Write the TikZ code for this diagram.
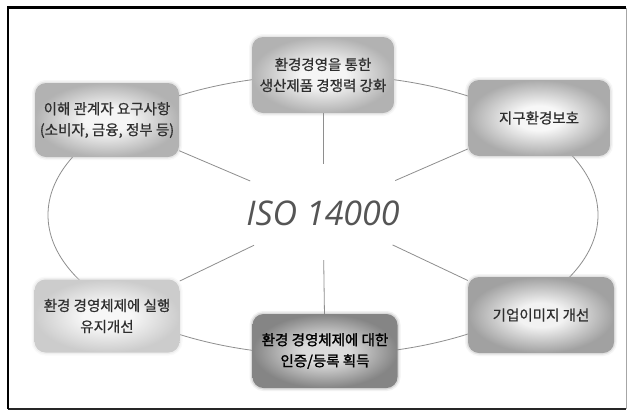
\documentclass[tikz,border=0pt]{standalone}
\usepackage{fontspec}
\newfontfamily\kr{Noto Sans CJK KR}[FakeBold=0.6]
\newfontfamily\krb{Noto Sans CJK KR}[FakeBold=1.4]
\newfontfamily\isofont{Open Sans}
\usetikzlibrary{shapes.geometric}
\definecolor{txt}{HTML}{2E2E2E}
\definecolor{linegray}{HTML}{8E8E8E}
\definecolor{isogray}{HTML}{555555}
\colorlet{boxin}{white}
\colorlet{boxout}{gray}
\pgfdeclareradialshading[boxin,boxout]{softbox}{\pgfpoint{0bp}{0bp}}{color(0bp)=(boxin); color(8bp)=(boxin); color(25bp)=(boxout); color(50bp)=(boxout)}
\tikzset{
  box/.style n args={2}{shape=rectangle, rounded corners=11pt,
    /utils/exec={\colorlet{boxin}{#1}\colorlet{boxout}{#2}},
    shade, shading=softbox,
    preaction={draw=#2, line width=6pt, opacity=0.10},
    preaction={draw=#2, line width=3pt, opacity=0.22},
    text=txt, font=\kr\fontsize{14.5}{21}\selectfont, align=center, inner sep=0pt},
  conn/.style={draw=linegray, line width=0.8pt},
}
\begin{document}
\begin{tikzpicture}[x=1pt,y=-1pt]
\useasboundingbox (0,0) rectangle (628,410);
\fill[white] (0,0) rectangle (628,410);
% frame
\draw[black!85, line width=1.2pt] (8,409) -- (626,409);
\draw[black!35, line width=0.7pt] (626,7.5) -- (626,409);
\draw[black, line width=2.2pt] (8,409) -- (8,7.5) -- (626,7.5);

% ring behind the boxes
\coordinate (ringc) at (323,215);
\draw[conn] (ringc) ellipse[x radius=275pt, y radius=140pt];

% boxes
\node[box={black!4}{black!30}, minimum width=144pt, minimum height=74pt] (tl) at (107,120) {이해 관계자 요구사항\\(소비자, 금융, 정부 등)};
\node[box={black!4}{black!30}, minimum width=142pt, minimum height=76pt] (tc) at (323,75) {환경경영을 통한\\생산제품 경쟁력 강화};
\node[box={black!3}{black!33}, minimum width=142pt, minimum height=76pt] (tr) at (539,118) {지구환경보호};
\node[box={black!3}{black!20}, minimum width=145pt, minimum height=73pt] (bl) at (107,316) {환경 경영체제에 실행\\유지개선};
\node[box={black!14}{black!48}, minimum width=145pt, minimum height=74pt, text=black, font=\krb\fontsize{14.5}{21}\selectfont] (bc) at (325,351) {환경 경영체제에 대한\\인증/등록 획득};
\node[box={black!5}{black!37}, minimum width=146pt, minimum height=76pt] (br) at (541,315) {기업이미지 개선};

% centre
\node[font=\isofont\itshape\fontsize{34}{34}\selectfont, text=isogray, inner sep=0pt] (iso) at (323,213.5) {ISO 14000};
\node[shape=ellipse, minimum width=190pt, minimum height=96pt, inner sep=0pt] (isoring) at (323,212) {};

\draw[conn] (isoring) -- (tl);
\draw[conn] (isoring) -- (tc);
\draw[conn] (isoring) -- (tr);
\draw[conn] (isoring) -- (bl);
\draw[conn] (isoring) -- (bc);
\draw[conn] (isoring) -- (br);
\end{tikzpicture}
\end{document}
